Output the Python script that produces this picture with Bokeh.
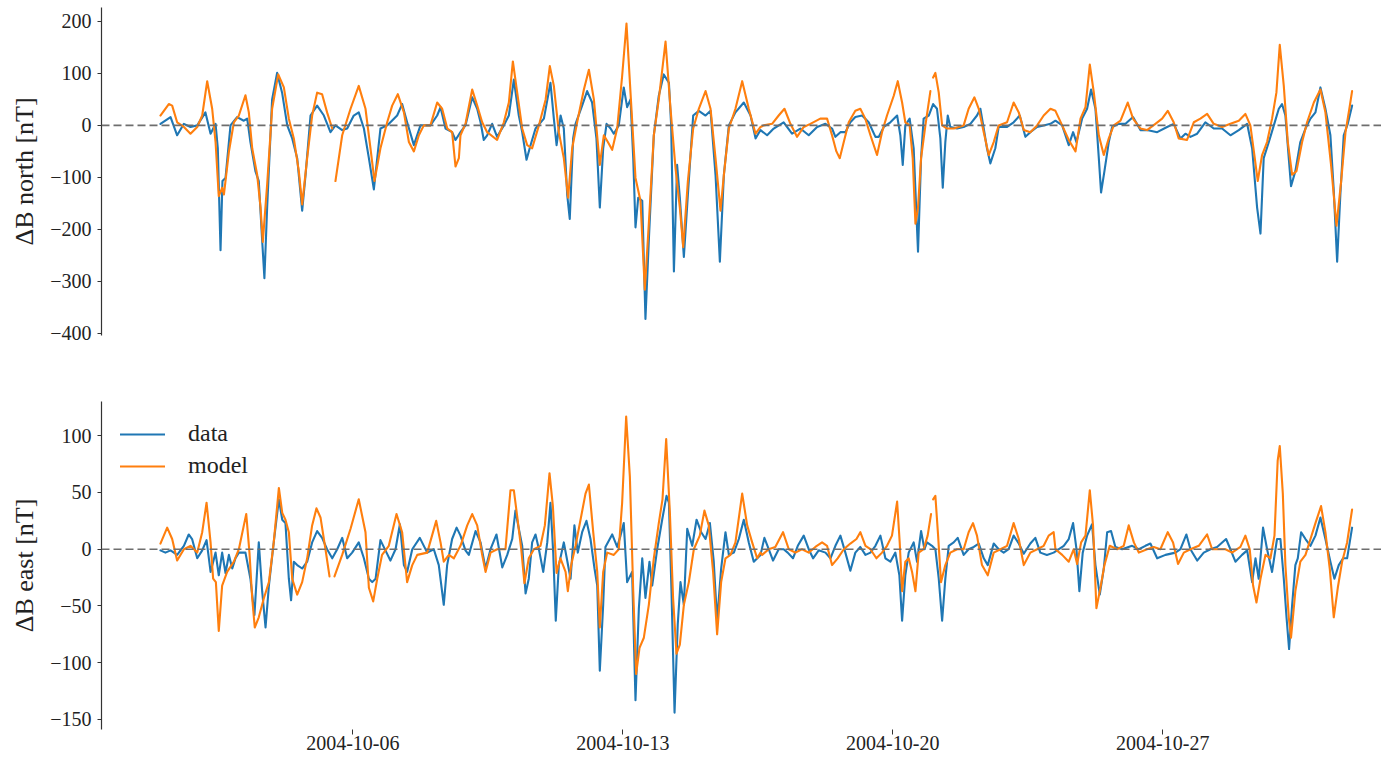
import numpy as np
import pandas as pd
from bokeh.plotting import figure
from bokeh.models import (Range1d, FixedTicker, DatetimeTickFormatter, Span,
                          Legend, LegendItem, CustomJSTickFormatter, ColumnDataSource)
from bokeh.layouts import column
from bokeh.embed import file_html
from bokeh.resources import INLINE

NaN = float("nan")
START = "2004-10-01 00:00"

# (hours since START, nT)
north_data = [
    (0.3, 3), (6.6, 16), (10.7, -19), (14.9, 3), (19.0, -3), (23.2, 0), (28.3, 25), (31.5, -16), (34.6, 3),
    (36.0, -44), (37.7, -240), (38.9, -107), (40.8, -101), (43.9, 0), (48.0, 16), (52.2, 9), (54.3, 13),
    (56.3, -32), (59.4, -88), (61.5, -107), (63.6, -221), (65.0, -294), (66.7, -158), (69.8, 50), (72.9, 101),
    (76.0, 63), (79.2, 0), (82.3, -25), (85.4, -63), (88.5, -164), (90.6, -95), (93.7, 19), (97.8, 38),
    (102.0, 19), (106.1, -13), (109.2, 0), (113.4, -9), (116.5, -6), (120.6, 19), (123.7, 25), (126.9, -6),
    (130.0, -63), (133.1, -123), (137.2, -6), (141.4, 0), (147.6, 19), (150.7, 41), (153.8, 6), (158.0, -38),
    (162.1, 0), (168.3, 0), (172.5, 19), (174.6, 35), (177.7, -6), (181.8, -13), (183.9, -28), (187.0, -13),
    (190.1, 0), (194.3, 54), (197.4, 32), (199.5, 6), (201.5, -28), (203.6, -19), (206.7, 3), (209.8, -22),
    (214.0, 0), (217.1, 19), (220.2, 88), (223.3, 19), (225.4, -13), (228.1, -66), (230.6, -38), (233.7, -6),
    (238.9, 13), (243.0, 82), (245.1, 13), (246.8, -38), (249.3, 19), (251.3, -6), (253.4, -133), (255.0, -180),
    (257.1, -25), (258.6, 3), (262.7, 38), (265.8, 66), (268.9, 44), (271.6, -25), (273.7, -158), (275.8, -44),
    (277.9, 3), (280.4, -6), (282.4, -16), (285.5, 0), (288.6, 73), (290.7, 35), (292.8, 50), (294.5, -63),
    (295.9, -196), (297.6, -139), (300.1, -145), (302.1, -372), (304.2, -221), (307.3, -19), (310.4, 57),
    (313.5, 98), (316.7, 82), (318.1, 0), (319.8, -281), (321.8, -76), (323.5, -139), (326.0, -253),
    (328.5, -133), (331.8, 19), (335.3, 28), (339.5, 19), (342.6, 28), (345.7, -95), (348.4, -262),
    (350.9, -95), (354.0, 0), (358.1, 25), (363.3, 44), (367.5, 19), (370.6, -25), (373.7, -9),
    (377.8, -19), (381.9, -6), (388.1, 6), (393.3, -16), (398.5, -6), (403.7, -19), (408.9, -3), (414.1, 3),
    (418.2, -6), (420.3, -22), (423.4, -13), (426.5, -13), (429.6, 6), (432.7, 16), (436.9, 19), (441.0, 6),
    (445.2, -22), (447.3, -22), (450.4, -3), (454.5, 6), (458.7, 19), (460.7, -19), (462.2, -76), (463.8, 0),
    (466.5, 13), (469.0, -44), (471.7, -243), (473.6, -63), (475.2, 13), (478.4, 19), (481.1, 41), (483.5, 32),
    (485.6, -25), (487.1, -120), (488.7, -32), (490.2, 19), (491.8, -3), (496.0, -6), (500.1, -3), (504.3, 3),
    (508.4, 19), (510.5, 32), (512.6, -6), (514.6, -44), (516.7, -73), (519.8, -44), (521.9, -3), (527.1, -3),
    (531.2, 6), (535.0, 19), (538.5, -22), (541.6, -13), (545.8, -3), (549.9, 0), (554.1, 3),
    (557.2, 9), (561.4, 0), (565.5, -38), (568.2, -13), (570.3, -32), (573.8, 13), (576.9, 32), (579.4, 69),
    (582.1, 32), (584.2, -63), (585.6, -129), (587.7, -88), (590.4, -32), (592.5, -3), (596.6, 3), (600.8, 3),
    (605.5, 16), (610.1, -9), (614.2, -9), (620.5, -13), (626.7, -3), (630.8, 3), (635.0, -25), (638.1, -16),
    (641.2, -22), (645.4, -16), (650.5, 6), (655.7, -6), (660.9, -6), (666.1, -19), (671.3, -9), (676.5, 3),
    (679.6, -44), (682.7, -158), (684.8, -208), (686.8, -63), (690.0, -32), (693.1, 0), (696.2, 32), (698.2, 41),
    (700.3, 19), (702.4, -63), (703.8, -117), (706.5, -88), (709.6, -32), (712.8, -6), (715.9, 13), (719.0, 25),
    (722.1, 73), (725.2, 32), (728.3, -19), (730.4, -126), (732.5, -262), (734.5, -133), (736.6, -19),
    (739.1, 3), (741.8, 38),
]

north_model = [
    (0.3, 19), (5.5, 41), (7.6, 38), (10.7, 6), (14.9, -3), (19.0, -16), (23.2, -3), (26.3, 19), (29.4, 85),
    (32.5, 32), (34.6, -32), (36.6, -136), (38.7, -120), (39.8, -133), (42.9, -51), (46.0, 6), (49.1, 19),
    (53.2, 58), (55.3, 25), (57.4, -44), (60.5, -95), (62.6, -158), (64.0, -224), (66.7, -114), (69.8, 32),
    (73.6, 98), (77.1, 73), (80.2, 13), (83.3, -25), (86.4, -88), (88.5, -152), (91.6, -63), (94.7, 19),
    (97.8, 63), (100.9, 60), (104.0, 25), (107.2, -6), (108.2, NaN), (109.2, -107), (113.4, -19), (118.6, 32),
    (123.7, 76), (127.9, 32), (131.0, -44), (133.5, -107), (137.2, -44), (141.4, 6), (144.5, 38), (148.0, 60),
    (151.8, 25), (154.9, -32), (158.0, -50), (161.1, -19), (164.2, 0), (168.3, 0), (172.5, 44), (175.6, 32),
    (178.8, -6), (181.8, -13), (183.9, -79), (186.0, -63), (187.0, -19),
    (190.1, 3), (194.3, 69), (197.4, 38), (200.5, 6), (203.6, -13), (209.8, -28), (214.0, 6), (217.1, 44),
    (219.6, 123), (222.3, 63), (225.4, -6), (228.5, -38), (231.6, -44), (235.8, 0), (240.0, 50), (242.6, 114),
    (245.1, 76), (248.2, -13), (251.3, -63), (254.0, -139), (256.5, -44), (259.6, 6), (263.8, 69), (266.9, 107),
    (270.0, 50), (273.7, -76), (276.2, -19), (278.7, -32), (281.4, -47), (284.5, -6), (287.6, 95), (290.3, 196),
    (292.8, 63), (295.9, -101), (299.0, -145), (301.7, -316), (304.2, -189), (307.3, -19), (310.4, 50),
    (314.6, 161), (317.7, 32), (320.8, -82), (323.5, -158), (325.6, -234), (328.5, -107), (331.8, -6),
    (335.3, 32), (339.5, 66), (342.6, 32), (345.7, -63), (348.8, -164), (350.9, -95), (354.0, -6), (358.1, 32),
    (362.3, 85), (366.4, 32), (370.6, -16), (373.7, -3),
    (375.7, 0), (380.9, 3), (385.0, 19), (388.6, 32), (392.3, 3), (396.4, -22), (400.6, -3), (404.7, 3),
    (410.9, 13), (415.1, 13), (418.2, -19), (420.9, -50), (423.0, -63), (425.5, -32), (428.6, 6), (432.7, 28),
    (435.8, 32), (438.9, 13), (442.1, -19), (446.2, -57), (449.3, -13), (452.4, 19), (456.6, 57), (459.1, 85),
    (461.8, 44), (463.8, 6), (466.5, 0), (468.4, -63), (470.1, -189), (471.7, -158), (473.6, -63), (476.3, 0),
    (479.4, 66), (480.3, NaN), (481.1, 92), (482.5, 101), (484.6, 63), (486.7, 0), (489.8, -6), (494.0, -6),
    (500.1, 0), (503.2, 32), (506.8, 54), (509.5, 32), (512.6, -13), (515.7, -57), (518.8, -32), (521.9, 0),
    (527.1, 6), (531.2, 44), (534.4, 25), (537.5, -9), (541.6, -13), (545.8, 0), (549.9, 19), (554.1, 32),
    (557.2, 28), (561.4, 0), (565.5, -28), (569.7, -50), (572.8, 13), (575.9, 35), (578.6, 117), (581.1, 63),
    (584.2, -19), (587.3, -57), (590.4, -25), (593.5, 0), (597.7, 9), (602.2, 44), (605.5, 13), (610.1, -6),
    (614.2, -9), (619.4, 3), (623.6, 13), (627.1, 28), (630.8, 6), (633.9, -25), (639.1, -28), (643.3, 6),
    (647.4, 13), (651.6, 22), (655.7, 3), (660.9, -3), (666.1, 3), (671.3, 9), (675.4, 22), (678.5, 0),
    (681.0, -57), (683.1, -107), (685.8, -57), (688.9, -32), (692.0, 13), (694.7, 63), (696.8, 155), (699.3, 76),
    (701.8, -32), (704.5, -95), (707.2, -88), (710.7, -32), (713.8, 6), (718.0, 44), (722.1, 69), (725.2, 25),
    (728.7, -76), (732.1, -193), (735.0, -107), (737.7, -13), (740.1, 32), (741.8, 66),
]

east_data = [
    (0.3, -1), (3.4, -3), (6.6, -1), (10.7, -5), (14.9, 3), (17.9, 13), (20.0, 9), (23.2, -8), (26.3, -1),
    (29.0, 8), (31.5, -20), (34.6, -3), (36.6, -23), (38.7, -3), (40.8, -21), (42.9, -5), (45.0, -17),
    (47.0, -8), (49.1, -3), (53.2, -3), (56.3, -26), (58.8, -58), (61.5, 6), (63.6, -37), (65.7, -69),
    (67.8, -32), (70.8, 6), (74.0, 44), (76.1, 26), (78.1, 23), (80.2, -26), (81.6, -45), (83.3, -11),
    (85.4, -14), (88.5, -17), (91.6, -11), (94.7, 6), (97.8, 16), (100.9, 10), (104.0, 0), (107.2, -8),
    (110.3, 0), (113.4, 10), (116.5, -8), (119.6, -3), (123.7, 6), (126.9, -8), (130.0, -26), (132.1, -29),
    (134.2, -26), (137.2, 8), (140.3, -1), (143.4, -10), (146.6, 0), (149.3, 22), (151.8, -14), (153.8, -20),
    (157.0, 0), (161.7, 10), (166.3, -3), (170.4, 0), (173.5, -14), (176.6, -49), (178.7, -14), (181.8, 9),
    (184.6, 19), (187.0, 12),
    (190.1, -1), (192.2, -5), (196.4, 16), (199.5, 6), (202.6, -17), (205.7, 0), (209.4, 13), (213.0, -16),
    (216.1, -5), (219.2, 9), (221.2, 34), (223.3, 18), (225.4, 3), (227.5, -39), (229.5, -26), (231.6, 6),
    (233.7, 13), (235.8, 0), (238.5, -20), (241.0, 6), (243.0, 41), (244.7, -3), (246.3, -63), (248.2, -14),
    (251.3, 6), (253.4, -10), (255.5, -26), (257.9, 21), (260.0, -3), (262.7, 15), (265.4, 25), (267.9, 9),
    (270.4, -17), (272.1, -32), (273.7, -107), (275.8, -49), (277.2, 2), (281.4, 13), (284.5, 2), (286.6, 12),
    (288.6, 23), (290.7, -29), (293.8, -20), (295.9, -133), (298.0, -52), (300.1, -8), (302.1, -43),
    (304.6, -11), (306.3, -32), (309.4, 0), (312.5, 26), (315.2, 47), (316.7, 41), (318.3, -37), (320.2, -144),
    (322.2, -66), (323.9, -29), (326.0, -49), (328.1, 18), (331.2, 3), (333.9, 26), (336.8, 15), (339.5, 9),
    (342.2, 23), (344.6, -11), (346.7, -63), (349.2, -17), (351.9, 15), (354.0, -5), (357.1, -3), (360.2, 9),
    (363.3, 26), (366.4, 6), (369.5, -11), (373.7, -5),
    (376.1, 10), (378.8, 0), (381.5, -10), (385.0, 0), (388.1, 0), (390.6, -3), (393.9, -8), (396.9, 3),
    (400.6, 12), (403.7, 0), (406.4, -8), (409.9, -1), (414.1, -3), (417.2, -8), (420.3, 3), (423.4, 12),
    (426.5, -3), (429.6, -19), (432.7, -3), (435.8, 2), (439.0, -5), (442.1, -3), (445.2, 3), (448.3, 12),
    (451.4, -8), (454.5, -11), (457.6, -3), (460.1, -23), (461.8, -63), (463.8, -23), (465.9, -3), (469.0, 6),
    (471.1, -11), (473.6, 16), (475.7, 0), (477.3, 6), (480.4, 3), (482.5, 0), (484.6, -26), (486.7, -63),
    (488.7, -26), (490.8, 3), (493.9, 6), (496.4, 10), (500.1, -5), (503.2, 0), (506.4, 2), (509.5, 5),
    (512.6, -8), (515.1, -14), (518.8, 5), (521.9, 0), (525.0, -3), (528.1, 0), (531.2, 12), (534.4, 5),
    (537.5, -4), (541.6, 5), (544.7, 10), (547.8, -3), (551.9, -5), (556.1, -3),
    (558.2, -1), (562.4, 3), (565.5, 9), (568.2, 23), (570.3, 0), (572.1, -37), (574.2, -3), (576.9, 12),
    (580.0, 22), (582.1, -14), (584.8, -40), (587.3, -17), (589.4, 15), (591.8, 16), (594.5, 2), (598.7, 0),
    (604.9, 3), (609.1, 0), (613.2, 3), (616.3, 5), (620.5, -8), (625.7, -5), (631.9, -3), (635.0, 0),
    (638.7, 13), (641.2, 0), (645.4, -10), (649.5, -3), (653.7, 0), (657.8, 2), (663.4, 9), (666.1, 0),
    (669.2, -11), (673.3, -5), (676.5, -1), (679.6, -29), (681.7, -8), (683.7, -26), (686.4, 19), (688.9, 0),
    (692.0, -20), (695.1, 9), (697.2, 9), (699.3, -26), (701.0, -60), (702.6, -88), (704.5, -49), (706.5, -14),
    (708.0, -8), (710.1, 15), (712.8, 9), (715.9, 3), (719.0, 12), (722.1, 28), (725.2, 9), (728.3, -11),
    (730.8, -26), (733.5, -14), (736.2, -8), (738.7, -8), (741.8, 19),
]

east_model = [
    (0.3, 5), (4.5, 19), (7.6, 9), (10.7, -10), (14.9, 0), (19.0, 3), (23.2, -3), (26.3, 15), (29.0, 41),
    (31.5, 6), (33.1, -26), (34.8, -29), (36.6, -72), (38.7, -32), (41.8, -20), (46.0, -11), (49.1, 0),
    (52.2, 21), (53.7, 31), (55.7, -3), (57.4, -43), (59.0, -69), (61.5, -60), (64.7, -43), (67.8, -29),
    (70.8, 6), (74.0, 54), (76.1, 32), (78.1, 26), (80.2, 15), (82.3, -26), (85.4, -40), (88.5, -29),
    (91.6, -8), (94.7, 21), (97.4, 36), (99.9, 28), (103.0, 0), (105.5, -24), (107.0, NaN), (108.6, -24),
    (113.4, -5), (118.6, 18), (123.7, 44), (127.9, 15), (130.0, -34), (132.7, -46), (135.2, -26), (138.2, -5),
    (142.4, 3), (147.2, 31), (150.7, 15), (153.8, -29), (157.0, -14), (160.1, -5), (166.3, -3), (171.9, 25),
    (174.6, 6), (176.6, -11), (179.8, -5), (182.9, -8), (187.0, 3),
    (191.2, 21), (194.3, 31), (197.4, 21), (200.5, -5), (202.6, -20), (205.7, -3), (209.8, 0), (215.0, 0),
    (218.1, 52), (220.2, 52), (222.3, 29), (224.8, 0), (226.8, -30), (229.5, -8), (232.7, 0), (236.8, 3),
    (239.5, 21), (242.4, 67), (244.5, 38), (246.8, -21), (249.2, -8), (252.4, -20), (253.8, -37), (255.9, -14),
    (258.6, 3), (261.7, 26), (264.8, 49), (266.9, 57), (269.6, 15), (272.1, -20), (273.7, -69), (275.8, -20),
    (278.3, -3), (282.4, -5), (285.5, 0), (287.6, 41), (290.1, 117), (292.4, 64), (294.5, -37), (296.3, -110),
    (298.4, -87), (301.1, -78), (304.2, -49), (307.3, -8), (310.4, 23), (312.7, 44), (315.0, 97), (317.3, 32),
    (319.3, -43), (321.4, -92), (323.5, -84), (326.0, -49), (329.1, -29), (332.2, 0), (335.9, 12), (338.8, 34),
    (341.5, 21), (344.2, -20), (346.7, -75), (349.2, -29), (351.9, -8), (355.0, -5), (358.1, 6), (362.3, 49),
    (365.4, 21), (368.5, 6), (371.6, -8), (373.7, -3),
    (374.7, -5), (378.8, 0), (382.9, 2), (387.7, 15), (391.3, 0), (395.4, -3), (399.5, 0), (403.7, -3),
    (407.8, 2), (412.0, 6), (415.1, 3), (418.2, -14), (421.7, -8), (425.5, 0), (429.6, 5), (433.4, 9),
    (435.8, 15), (439.0, 3), (442.1, 0), (445.8, -8), (449.3, -3), (452.4, 3), (455.5, 12), (458.7, 42),
    (460.3, 6), (461.8, -37), (463.8, -11), (465.9, -8), (468.0, -20), (470.1, -37), (472.1, -3), (475.2, 0),
    (477.7, 12), (479.8, 31), (480.4, NaN), (481.1, 44), (482.5, 47), (484.2, 12), (486.0, -29), (488.7, -14),
    (491.8, -3), (496.0, 0), (500.1, 0), (503.2, 15), (505.9, 23), (508.4, 12), (511.5, -14), (515.1, -23),
    (518.8, -3), (523.0, 0), (527.1, 3), (531.2, 23), (534.4, 9), (537.5, -14), (541.6, -3), (545.8, 0),
    (549.9, 3), (553.0, 12), (556.1, 15),
    (557.2, 0), (561.4, -5), (565.5, -11), (568.6, 0), (570.7, -13), (573.2, 6), (575.9, 12), (578.6, 52),
    (580.6, 21), (582.7, -52), (585.2, -34), (587.7, -14), (591.0, 3), (595.6, 0), (599.7, 3), (602.8, 21),
    (606.0, 6), (609.1, -3), (614.2, 0), (618.4, 2), (622.5, 0), (627.1, 15), (630.4, 6), (633.5, -13),
    (637.1, -3), (641.2, 0), (646.4, 3), (651.6, 13), (654.7, 0), (658.8, 0), (663.0, 0), (667.1, -3),
    (672.3, 2), (675.4, 12), (678.1, 0), (680.2, -32), (682.3, -47), (684.8, -26), (687.9, -5), (691.0, -8),
    (693.5, 12), (695.5, 78), (696.8, 91), (698.7, 49), (700.3, -14), (702.4, -60), (703.8, -78), (706.5, -37),
    (709.6, -11), (712.8, -5), (715.9, 9), (719.0, 23), (722.5, 38), (725.2, 15), (727.9, -17), (730.4, -60),
    (732.9, -34), (735.6, -11), (738.7, 6), (741.8, 35),
]

x_tick_dates = ["2004-10-06", "2004-10-13", "2004-10-20", "2004-10-27"]
north_yticks = [-400, -300, -200, -100, 0, 100, 200]
east_yticks = [-150, -100, -50, 0, 50, 100]
series_labels = ["data", "model"]

BLUE = "#1f77b4"
ORANGE = "#ff7f0e"
FONT = "Liberation Serif"
AX = "#333333"

t0 = pd.Timestamp(START)


def to_source(pairs):
    h = np.array([p[0] for p in pairs], dtype=float)
    v = np.array([p[1] for p in pairs], dtype=float)
    return ColumnDataSource(dict(t=t0 + pd.to_timedelta(h, unit="h"), v=v))


x_range = Range1d(t0 + pd.Timedelta(hours=-36.37), t0 + pd.Timedelta(hours=760.1))
minus_fmt = "return (tick < 0 ? '\u2212' + Math.abs(tick) : '' + tick);"


def style_y(p, ticks, label):
    ax = p.yaxis[0]
    ax.ticker = FixedTicker(ticks=ticks)
    ax.formatter = CustomJSTickFormatter(code=minus_fmt)
    ax.axis_label = label
    ax.axis_label_text_font = FONT
    ax.axis_label_text_font_style = "normal"
    ax.axis_label_text_font_size = "26px"
    ax.axis_label_text_color = "#222222"
    ax.axis_label_standoff = 8
    ax.major_label_text_font = FONT
    ax.major_label_text_font_size = "20px"
    ax.major_label_text_color = "#222222"
    ax.major_label_standoff = 6
    ax.axis_line_color = AX
    ax.axis_line_width = 1.2
    ax.major_tick_line_color = AX
    ax.major_tick_in = 0
    ax.major_tick_out = 4
    ax.minor_tick_line_color = None


def base_fig(height, y_range, top, bottom):
    p = figure(width=1381, height=height, x_axis_type="datetime", x_range=x_range, y_range=y_range,
               output_backend="svg", toolbar_location=None,
               min_border_left=101, min_border_right=0, min_border_top=top, min_border_bottom=bottom)
    p.xgrid.visible = False
    p.ygrid.visible = False
    p.outline_line_color = None
    p.background_fill_color = "white"
    p.border_fill_color = "white"
    return p


LINE = dict(line_width=2.1, line_join="round", line_cap="round")

# ---- top panel: north ----
p1 = base_fig(376, Range1d(-404, 226.7), 7, 41)
p1.xaxis.visible = False
p1.line("t", "v", source=to_source(north_data), line_color=BLUE, **LINE)
p1.line("t", "v", source=to_source(north_model), line_color=ORANGE, **LINE)
p1.add_layout(Span(location=0, dimension="width", line_color="#6e6e6e", line_dash="8 4", line_width=1.6))
style_y(p1, north_yticks, "\u0394B north [nT]")

# ---- bottom panel: east ----
p2 = base_fig(378, Range1d(-158.9, 130.2), 25, 25)
r_d = p2.line("t", "v", source=to_source(east_data), line_color=BLUE, **LINE)
r_m = p2.line("t", "v", source=to_source(east_model), line_color=ORANGE, **LINE)
p2.add_layout(Span(location=0, dimension="width", line_color="#6e6e6e", line_dash="8 4", line_width=1.6))
style_y(p2, east_yticks, "\u0394B east [nT]")

xa = p2.xaxis[0]
xa.ticker = FixedTicker(ticks=[pd.Timestamp(d).value / 1e6 for d in x_tick_dates])
fmt = "%Y-%m-%d"
xa.formatter = DatetimeTickFormatter(microseconds=fmt, milliseconds=fmt, seconds=fmt, minsec=fmt,
                                     minutes=fmt, hourmin=fmt, hours=fmt, days=fmt, months=fmt, years=fmt)
xa.axis_line_color = None
xa.major_tick_line_color = AX
xa.major_tick_in = 0
xa.major_tick_out = 5
xa.minor_tick_line_color = None
xa.major_label_text_font = FONT
xa.major_label_text_font_size = "20px"
xa.major_label_text_color = "#222222"
xa.major_label_standoff = 1

legend = Legend(items=[LegendItem(label=series_labels[0], renderers=[r_d]),
                       LegendItem(label=series_labels[1], renderers=[r_m])],
                location="top_left")
legend.border_line_color = None
legend.background_fill_alpha = 0
legend.label_text_font = FONT
legend.label_text_font_size = "24px"
legend.label_text_color = "#222222"
legend.glyph_width = 45
legend.glyph_height = 22
legend.label_standoff = 23
legend.spacing = 5
legend.padding = 0
legend.margin = 19
p2.add_layout(legend)

layout = column(p1, p2, spacing=0)
open("out.html", "w").write(file_html(layout, INLINE))
